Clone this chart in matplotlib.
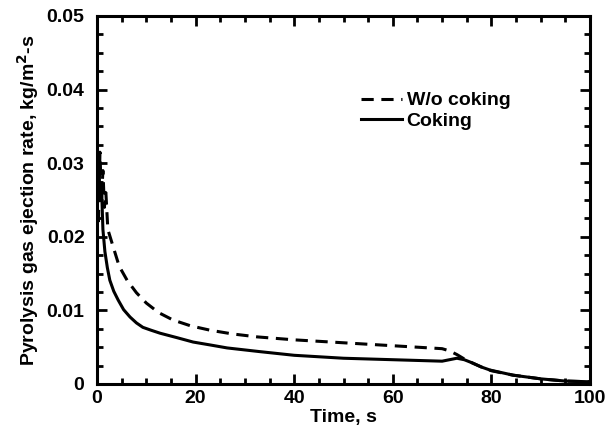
import matplotlib.pyplot as plt
from matplotlib.ticker import MultipleLocator

plt.rcParams['font.family'] = ['Liberation Sans', 'DejaVu Sans']
plt.rcParams['font.weight'] = 'bold'
plt.rcParams['mathtext.default'] = 'bf'

# W/o coking (dashed)
t_nocoke = [0.3, 0.6, 0.9, 1.2, 1.5, 1.8, 2.2, 3.3, 4.5, 6.1, 8.0, 10.0, 12.5, 15.4, 19.0,
            23.0, 27.5, 32.5, 40.0, 50.0, 60.0, 70.0, 71.5, 73.0, 74.5, 76.0, 78.0,
            80.0, 84.4, 90.0, 95.0, 100.0]
q_nocoke = [0.022, 0.0315, 0.025, 0.029, 0.024, 0.026, 0.021, 0.0186, 0.0160, 0.0141,
            0.0124, 0.0110, 0.0097, 0.0087, 0.0079, 0.0073, 0.0068, 0.0064, 0.0060,
            0.0056, 0.0052, 0.0048, 0.0045, 0.0040, 0.0034, 0.0029, 0.0023,
            0.0018, 0.0012, 0.0007, 0.0004, 0.0003]

# Coking (solid)
t_coke = [0.3, 0.6, 0.9, 1.2, 1.6, 2.1, 2.6, 3.4, 4.3, 5.4, 6.7, 8.0, 9.3, 11.0, 12.8,
          16.2, 19.5, 23.0, 26.4, 33.0, 40.0, 50.0, 60.0, 70.0, 71.5, 73.0, 74.5,
          76.0, 78.0, 79.7, 84.4, 90.0, 95.0, 100.0]
q_coke = [0.028, 0.025, 0.027, 0.021, 0.018, 0.0158, 0.0141, 0.0126, 0.0114, 0.0101,
          0.0091, 0.0083, 0.0077, 0.0073, 0.0069, 0.0063, 0.0057, 0.0053, 0.0049,
          0.0044, 0.0039, 0.0035, 0.0033, 0.0031, 0.0033, 0.0035, 0.0033, 0.0029,
          0.0023, 0.0019, 0.0012, 0.0007, 0.0004, 0.0003]

fig = plt.figure(figsize=(6.16, 4.34), dpi=100)
ax = fig.add_axes([97 / 616, 1 - 384 / 434, (590 - 97) / 616, (384 - 16) / 434])

ax.plot(t_nocoke, q_nocoke, color='black', lw=2.2, ls=(0, (4, 2.5)), label='W/o coking')
ax.plot(t_coke, q_coke, color='black', lw=2.2, label='Coking')

ax.set_xlim(0, 100)
ax.set_ylim(0, 0.05)
ax.xaxis.set_major_locator(MultipleLocator(20))
ax.xaxis.set_minor_locator(MultipleLocator(5))
ax.yaxis.set_minor_locator(MultipleLocator(0.0025))
ax.set_yticks([0, 0.01, 0.02, 0.03, 0.04, 0.05])
ax.set_yticklabels(['0', '0.01', '0.02', '0.03', '0.04', '0.05'])

ax.tick_params(which='both', direction='in', top=True, right=True, width=2, labelsize=14)
ax.tick_params(which='major', length=7)
ax.tick_params(which='minor', length=4)
ax.tick_params(axis='y', pad=9)
ax.tick_params(axis='x', pad=4)
for s in ax.spines.values():
    s.set_linewidth(2.2)

ax.set_xlabel('Time, s', fontsize=14, fontweight='bold', labelpad=2)
ax.set_ylabel('Pyrolysis gas ejection rate, kg/m$^{2}$-s', fontsize=14, fontweight='bold',
              labelpad=4)

ax.legend(loc='center left', bbox_to_anchor=(0.5, 0.742), frameon=False, fontsize=14,
          handlelength=2.1, handletextpad=0.25, labelspacing=0.15)

fig.savefig('out.png', dpi=100)
